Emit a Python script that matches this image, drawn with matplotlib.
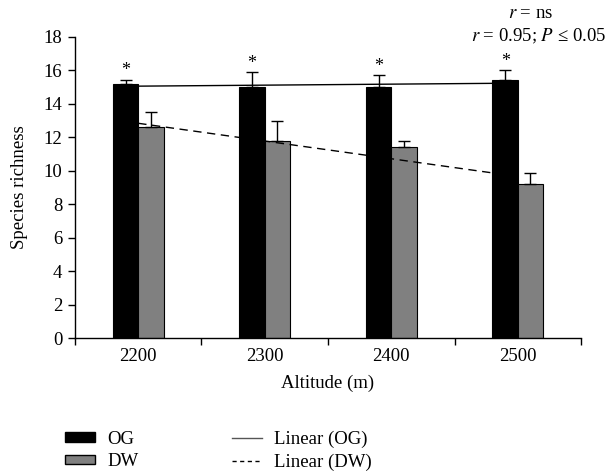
import matplotlib.pyplot as plt
import numpy as np
from matplotlib.patches import Patch
from matplotlib.lines import Line2D

plt.rcParams['font.family'] = ['Liberation Serif', 'DejaVu Serif']
plt.rcParams['mathtext.fontset'] = 'stix'

# Daten
altitudes = ['2200', '2300', '2400', '2500']
og = [15.2, 15.0, 15.0, 15.4]
og_err = [0.25, 0.9, 0.7, 0.6]
dw = [12.6, 11.8, 11.4, 9.2]
dw_err = [0.9, 1.2, 0.4, 0.65]

x = np.arange(len(altitudes))
w = 0.2

fig = plt.figure(figsize=(6.11, 4.73), dpi=100)
ax = fig.add_axes([0.1227, 0.2854, 0.8283, 0.6364])

err_kw = dict(ecolor='black', elinewidth=1, capsize=4, capthick=1)
ax.bar(x - w / 2, og, w, color='black', edgecolor='black', linewidth=0.8,
       yerr=[np.zeros(4), og_err], error_kw=err_kw, zorder=2)
ax.bar(x + w / 2, dw, w, color='#808080', edgecolor='black', linewidth=0.8,
       yerr=[np.zeros(4), dw_err], error_kw=err_kw, zorder=2)

# Lineare Trendlinien
p_og = np.polyfit(x, og, 1)
p_dw = np.polyfit(x, dw, 1)
ax.plot(x, np.polyval(p_og, x), color='black', linewidth=1, zorder=3)
ax.plot(x, np.polyval(p_dw, x), color='black', linewidth=1, linestyle=(0, (6, 4)), zorder=3)

# Sterne
for xi, v, e in zip(x, og, og_err):
    ax.text(xi - w / 2, v + e + 0.02, '*', ha='center', va='bottom', fontsize=13)

ax.set_xlim(-0.5, 3.5)
ax.set_ylim(0, 18)
ax.set_yticks(range(0, 19, 2))
ax.set_xticks(x)
ax.set_xticklabels(altitudes)
ax.set_xticks(np.arange(-0.5, 4, 1), minor=True)
ax.tick_params(axis='x', which='major', length=0, labelsize=13.5, pad=7)
ax.tick_params(axis='x', which='minor', length=5, width=1)
ax.tick_params(axis='y', length=5, width=1, labelsize=13.5, pad=4)
for s in ['top', 'right']:
    ax.spines[s].set_visible(False)
for s in ['left', 'bottom']:
    ax.spines[s].set_linewidth(1)

ax.set_xlabel('Altitude (m)', fontsize=13.5, labelpad=7)
ax.set_ylabel('Species richness', fontsize=13.5, labelpad=11)

fig.text(0.868, 0.972, '$r$ = ns', ha='center', va='center', fontsize=13.5)
fig.text(0.992, 0.922, '$r$ = 0.95; $P$ ≤ 0.05', ha='right', va='center', fontsize=13.5)

handles = [Patch(facecolor='black', edgecolor='black'),
           Patch(facecolor='#808080', edgecolor='black'),
           Line2D([], [], color='#555555', linewidth=1),
           Line2D([], [], color='black', linewidth=1, linestyle=(0, (3, 2.5)))]
labels = ['OG', 'DW', 'Linear (OG)', 'Linear (DW)']
fig.legend(handles, labels, ncol=2, loc='upper left', bbox_to_anchor=(0.106, 0.09),
           frameon=False, fontsize=13.5, handlelength=1.6, handleheight=0.4,
           columnspacing=5.0, labelspacing=0.3, handletextpad=0.65,
           borderpad=0, borderaxespad=0)

plt.savefig('out.png', dpi=100)
